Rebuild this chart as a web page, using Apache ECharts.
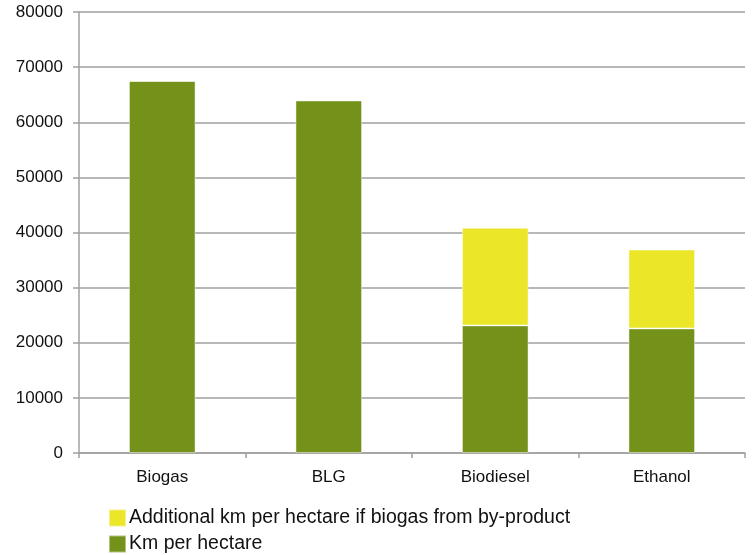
<!DOCTYPE html>
<html>
<head>
<meta charset="utf-8">
<script src="https://cdn.jsdelivr.net/npm/echarts@6/dist/echarts.min.js"></script>
<style>html,body{margin:0;padding:0;background:#fff;}#c{width:754px;height:555px;}</style>
</head>
<body>
<div id="c"></div>
<script>
var categories = ['Biogas', 'BLG', 'Biodiesel', 'Ethanol'];
var kmPerHectare = [67500, 63950, 23150, 22600];
var additionalKm = [0, 0, 17700, 14300];
var seriesNames = ['Km per hectare', 'Additional km per hectare if biogas from by-product'];
var yTicks = { min: 0, max: 80000, interval: 10000 };

var chart = echarts.init(document.getElementById('c'), null, { renderer: 'canvas' });
var font = 'Liberation Sans, Arial, sans-serif';
chart.setOption({
  animation: false,
  backgroundColor: '#ffffff',
  grid: { left: 79, right: 9, top: 12, bottom: 102, containLabel: false },
  legend: {
    orient: 'vertical',
    left: 108,
    top: 508,
    padding: 0,
    itemWidth: 17,
    itemHeight: 17,
    itemGap: 6,
    icon: 'rect',
    data: [seriesNames[1], seriesNames[0]],
    textStyle: { fontFamily: font, fontSize: 19.5, color: '#111', padding: [0, 0, 0, -2] }
  },
  xAxis: {
    type: 'category',
    data: categories,
    axisLine: { lineStyle: { color: '#a0a0a0', width: 1.5 } },
    axisTick: { show: true, length: 5, lineStyle: { color: '#a0a0a0', width: 1.5 } },
    axisLabel: { fontFamily: font, fontSize: 17, color: '#111', margin: 16 }
  },
  yAxis: {
    type: 'value',
    min: yTicks.min,
    max: yTicks.max,
    interval: yTicks.interval,
    axisLine: { show: true, lineStyle: { color: '#a0a0a0', width: 1.5 } },
    axisTick: { show: true, length: 6, lineStyle: { color: '#a0a0a0', width: 1.5 } },
    splitLine: { show: true, lineStyle: { color: '#a0a0a0', width: 1.5 } },
    axisLabel: { fontFamily: font, fontSize: 17, color: '#111', margin: 16,
      formatter: function (v) { return String(v); } }
  },
  series: [
    {
      name: seriesNames[0],
      type: 'bar',
      stack: 'total',
      barWidth: '40%',
      data: kmPerHectare,
      itemStyle: { color: '#749219', borderColor: 'rgba(255,255,255,0.45)', borderWidth: 1 }
    },
    {
      name: seriesNames[1],
      type: 'bar',
      stack: 'total',
      barWidth: '40%',
      data: additionalKm,
      itemStyle: { color: '#ebe628', borderColor: 'rgba(255,255,255,0.45)', borderWidth: 1 }
    }
  ]
});
</script>
</body>
</html>
